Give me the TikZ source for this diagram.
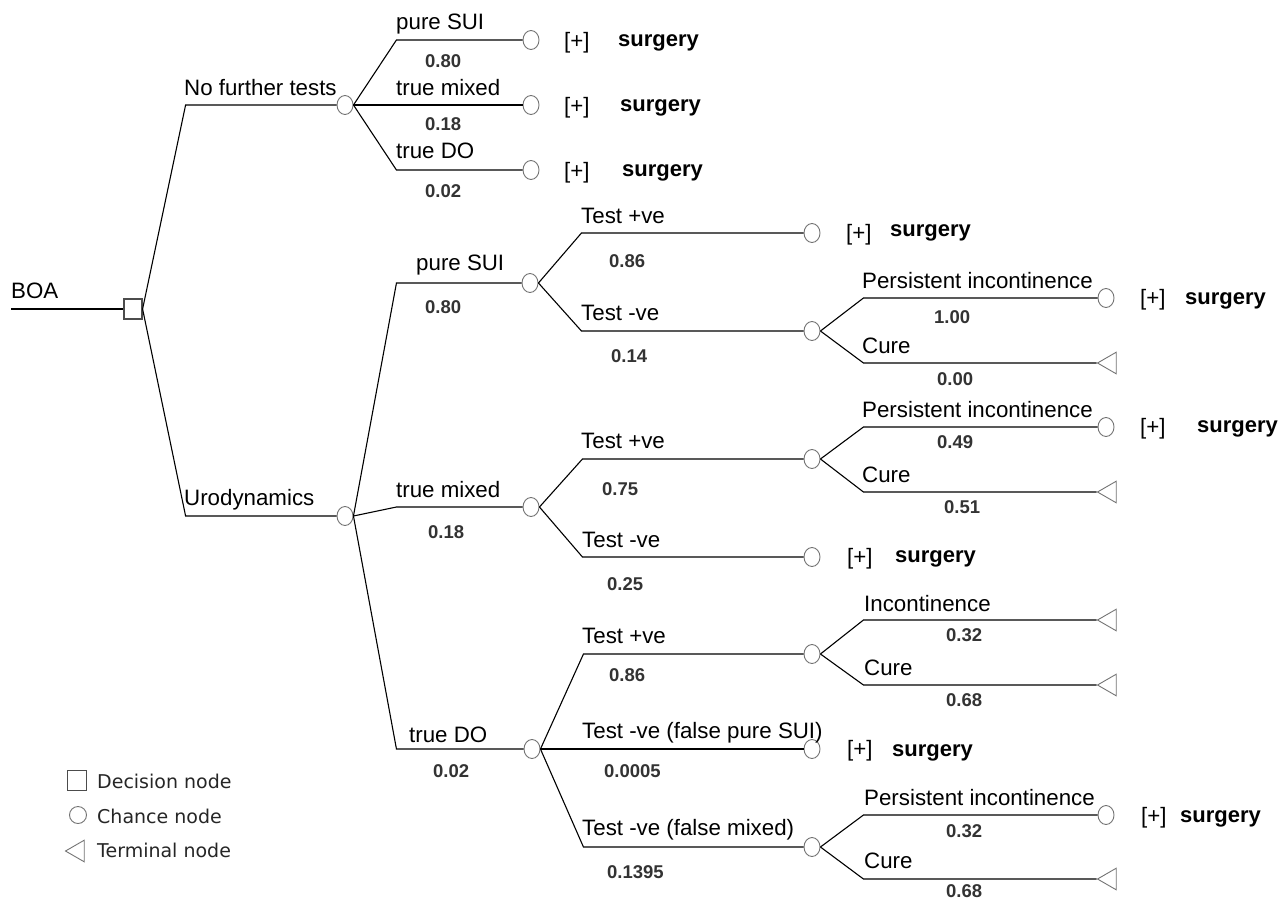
\documentclass[tikz,border=0pt]{standalone}
\usepackage{fontspec}
\setmainfont{Liberation Sans}
\newfontfamily\legendfont{DejaVu Sans}
\usetikzlibrary{shapes.geometric}
\tikzset{
  branch/.style={line width=1.1pt},
  chance/.style={ellipse, draw=black!55, line width=0.9pt, minimum width=16pt, minimum height=19pt, inner sep=0pt},
  decision/.style={rectangle, draw=black!70, line width=1.2pt, minimum width=18pt, minimum height=20pt, inner sep=0pt},
  terminal/.style={regular polygon, regular polygon sides=3, shape border rotate=90, draw=black!55, line width=0.9pt, minimum size=25pt, inner sep=0pt},
  lbl/.style={anchor=base west, inner sep=0pt, font=\fontsize{22.3}{26}\selectfont},
  pay/.style={lbl, font=\fontsize{22}{26}\selectfont\bfseries},
  prob/.style={anchor=base west, inner sep=0pt, text=black!80, font=\fontsize{18.5}{22}\selectfont\bfseries},
  legend/.style={anchor=base west, inner sep=0pt, text=black!85, font=\legendfont\fontsize{19}{22}\selectfont}
}
\begin{document}
\begin{tikzpicture}[x=1pt, y=-1pt]
\useasboundingbox (0,0) rectangle (1279,897);
\coordinate (root) at (11,309);
\node[decision] (dec) at (133,309) {};
\foreach \n/\x/\y in {nft/345/105, uro/345/516, n1/531/40, n2/531/105, n3/531/170,
    sui/530/283, mix/531/507, tdo/532/749, s1/812/233, s2/812/331, m1/812/459, m2/812/557,
    d1/812/654, d2/812/749, d3/812/847, s2a/1106/298, m1a/1106/427, d3a/1106/815}
  \node[chance] (\n) at (\x,\y) {};
\foreach \n/\y in {s2b/363, m1b/492, d1a/620, d1b/685, d3b/879}
  \node[terminal] (\n) at (1110,\y) {};

\draw[branch] (root) -- (dec.west);
\foreach \p/\c in {dec/nft, dec/uro, nft/n1, nft/n2, nft/n3, uro/sui, uro/mix, uro/tdo,
    sui/s1, sui/s2, mix/m1, mix/m2, tdo/d1, tdo/d2, tdo/d3, s2/s2a, s2/s2b, m1/m1a, m1/m1b,
    d1/d1a, d1/d1b, d3/d3a, d3/d3b}
  \draw[branch] (\p.east) -- ([xshift=43pt]\c.west -| \p.east) -- (\c.west);

\foreach \x/\y/\t [count=\i] in {11/298/BOA, 184/95/No further tests, 184/505/Urodynamics,
    396/29/pure SUI, 396/95/true mixed, 396/158/true DO, 416/270/pure SUI, 396/497/true mixed,
    409/742/true DO, 581/223/Test +ve, 581/320/Test -ve, 581/448/Test +ve, 582/547/Test -ve,
    582/643/Test +ve, 582/738/Test -ve (false pure SUI), 582/835/Test -ve (false mixed),
    862/288/Persistent incontinence, 862/353/Cure, 862/417/Persistent incontinence, 862/482/Cure,
    864/611/Incontinence, 864/675/Cure, 864/805/Persistent incontinence, 864/868/Cure}
  \node[lbl] (lab\i) at (\x,\y) {\t};

\foreach \x/\y/\t [count=\i] in {425/67/0.80, 425/130/0.18, 425/197/0.02, 425/313/0.80,
    428/538/0.18, 433/777/0.02, 609/267/0.86, 611/362/0.14, 602/495/0.75, 607/590/0.25,
    609/681/0.86, 604/777/0.0005, 607/878/0.1395, 934/323/1.00, 937/385/0.00, 937/448/0.49,
    944/513/0.51, 946/641/0.32, 946/706/0.68, 946/837/0.32, 946/897/0.68}
  \node[prob] (pr\i) at (\x,\y) {\t};

\foreach \n/\x/\y/\z/\w in {n1/564/48/618/46, n2/564/113/620/111, n3/564/178/622/176,
    s1/846/240/890/236, s2a/1140/305/1185/304, m1a/1140/434/1197/432, m2/847/564/895/562,
    d2/847/756/892/756, d3a/1141/823/1180/822}
  {\node[lbl] (\n-plus) at (\x,\y) {[+]};
   \node[pay] (\n-pay) at (\z,\w) {surgery};}

\node[decision, minimum width=19pt, minimum height=20pt, line width=0.9pt] (keyd) at (77,780) {};
\node[chance, minimum width=17pt, minimum height=17pt] (keyc) at (78,815) {};
\node[terminal] (keyt) at (78,851) {};
\node[legend] (keydl) at (97,788) {Decision node};
\node[legend] (keycl) at (97,823) {Chance node};
\node[legend] (keytl) at (97,857) {Terminal node};
\end{tikzpicture}
\end{document}
